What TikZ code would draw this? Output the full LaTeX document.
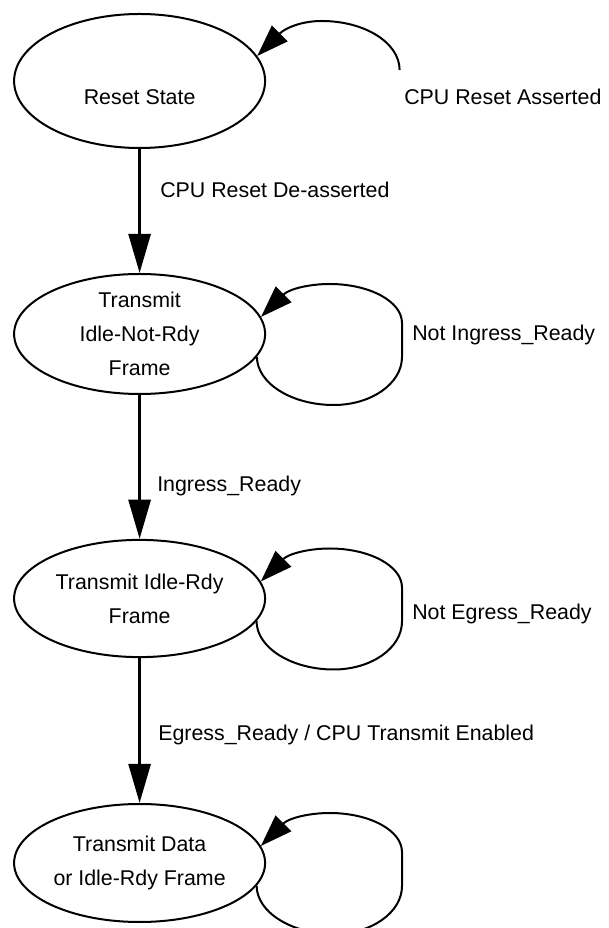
\documentclass[tikz,border=0pt]{standalone}
\usepackage{fontspec}
\setmainfont{Liberation Sans}
\usetikzlibrary{calc,arrows.meta,shapes.geometric}

\begin{document}
\begin{tikzpicture}[
  state/.style={draw, ellipse, line width=0.05cm, minimum width=6.275cm,
    minimum height=2.95cm, inner sep=0pt},
  txt/.style={align=center, inner sep=0pt, font=\fontsize{15.2}{24.2}\selectfont},
  trans/.style={line width=0.075cm, -{Triangle[length=0.98cm,width=0.55cm]}},
  selfloop/.style={line width=0.05cm, -{Triangle[length=0.8cm,width=0.55cm]}}
]
\useasboundingbox (0,0) rectangle (15.2,23.2);

% states, top to bottom
\node[state, minimum height=3.35cm] (reset) at (3.49,21.175) {};
\node[txt] (resettxt) at ($(reset.center)+(0,-0.4)$) {Reset State};

\node[state, minimum height=3.0cm] (tinr) at (3.49,14.85) {};
\node[txt] (tinrtxt) at (tinr.center) {Transmit\\Idle-Not-Rdy\\Frame};

\node[state, minimum height=2.93cm] (tir) at (3.49,8.2375) {};
\node[txt] (tirtxt) at (tir.center) {Transmit Idle-Rdy\\Frame};

\node[state] (tdata) at (3.49,1.625) {};
\node[txt] (tdatatxt) at (tdata.center) {Transmit Data\\or Idle-Rdy Frame};

% transitions down the chain
\draw[trans] (reset) -- (tinr);
\draw[trans] (tinr) -- (tir);
\draw[trans] (tir) -- (tdata);

\node[txt, anchor=base west] (deassert) at (4.0,18.26) {CPU Reset De-asserted};
\node[txt, anchor=base west] (ingress) at (3.925,10.91) {Ingress\_Ready};
\node[txt, anchor=base west] (egress) at (3.95,4.685) {Egress\_Ready / CPU Transmit Enabled};

% reset stays in reset while asserted (open arc)
\coordinate (rae) at ($(reset.center)+(6.5,0.275)$);
\draw[selfloop] (rae) .. controls +(0,0.68) and +(1.08,0) .. ($(reset.center)+(4.55,1.5)$)
  .. controls +(-0.5,0) and +(0.7,0.7) .. (reset.12);
\node[txt, anchor=base west] (assert) at (10.1,20.585) {CPU Reset Asserted};

% self loops on the lower states
\foreach \s in {tinr,tir,tdata}{
  \draw[selfloop] (\s.-11) .. controls +(0,-0.66) and +(-1.05,0) .. ($(\s.center)+(4.85,-1.775)$)
    .. controls +(0.95,0) and +(0,-0.66) .. ($(\s.center)+(6.56,-0.575)$)
    -- ($(\s.center)+(6.56,0.275)$)
    .. controls +(0,0.54) and +(1.0,0) .. ($(\s.center)+(4.75,1.25)$)
    .. controls +(-0.5,0) and +(0.7,0.7) .. (\s.8);
}

\node[txt, anchor=base west] (notingress) at (10.3,14.685) {Not Ingress\_Ready};
\node[txt, anchor=base west] (notegress) at (10.3,7.71) {Not Egress\_Ready};

\end{tikzpicture}
\end{document}
